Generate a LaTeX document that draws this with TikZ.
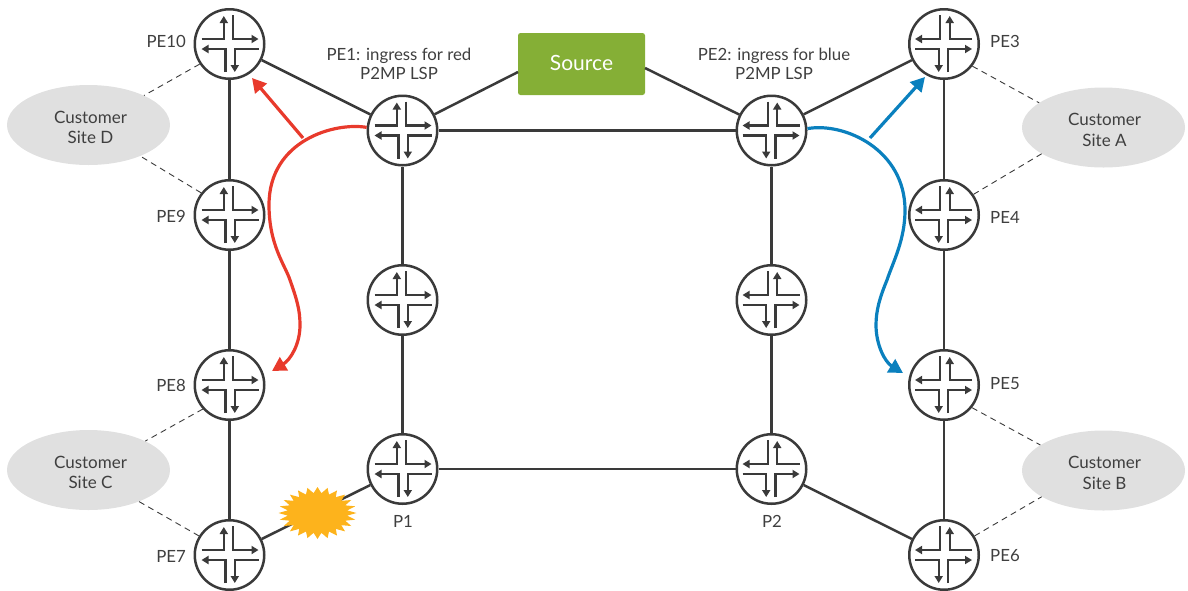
\documentclass[tikz,border=0pt]{standalone}
\usepackage{fontspec}
\setmainfont{Lato}
\usetikzlibrary{arrows.meta,shapes.geometric}
\definecolor{ink}{HTML}{3A3A3A}
\definecolor{txt}{HTML}{3F3F3F}
\definecolor{sitegray}{HTML}{E0E0E0}
\definecolor{srcgreen}{HTML}{85AF36}
\definecolor{burstc}{HTML}{FDB31C}
\definecolor{redl}{HTML}{E83A2C}
\definecolor{bluel}{HTML}{0A80BE}
\tikzset{
  router/.style={circle,draw=ink,fill=white,line width=2.5pt,minimum size=69.5pt,inner sep=0pt},
  link/.style={draw=ink,line width=2.5pt},
  dashlink/.style={draw=ink,line width=0.9pt,dash pattern=on 6pt off 4.5pt},
  site/.style={ellipse,fill=sitegray,minimum width=163pt,minimum height=80pt,inner sep=0pt,align=center,text=txt,font=\fontsize{17}{20.5}\selectfont},
  lab/.style={text=txt,inner sep=0pt,font=\fontsize{16.8}{19}\selectfont,align=center},
  icontip/.style={-{Triangle[length=7pt,width=8pt]}},
  iconLeft/.pic={
    \begin{scope}[line width=2.3pt,draw=ink,ink,miter limit=10]
      \draw[icontip] (-28,-5) -- (-5.7,-5) -- (-5.7,-28);
      \draw[icontip] (3.7,-29) -- (3.7,-5) -- (29,-5);
      \draw[icontip] (-4,28) -- (-4,5) -- (-28,5);
      \draw[icontip] (29,5) -- (5.3,5) -- (5.3,28);
    \end{scope}
  },
  iconRight/.pic={
    \begin{scope}[xscale=-1,line width=2.3pt,draw=ink,ink,miter limit=10]
      \draw[icontip] (-28,-5) -- (-5.7,-5) -- (-5.7,-28);
      \draw[icontip] (3.7,-29) -- (3.7,-5) -- (29,-5);
      \draw[icontip] (-4,28) -- (-4,5) -- (-28,5);
      \draw[icontip] (29,5) -- (5.3,5) -- (5.3,28);
    \end{scope}
  },
  redarrow/.style={draw=redl,line width=3.2pt,-{Triangle[length=14pt,width=15pt,fill=redl]}},
  bluearrow/.style={draw=bluel,line width=3.2pt,-{Triangle[length=14pt,width=15pt,fill=bluel]}},
}
\begin{document}
\begin{tikzpicture}[x=1pt,y=-1pt]
\useasboundingbox (0,0) rectangle (1188,590);
% routers
\node[router] (pe10) at (229.5,44) {};
\node[router] (pe9)  at (229.5,215) {};
\node[router] (pe8)  at (229.5,385) {};
\node[router] (pe7)  at (229.5,555) {};
\node[router] (pe1)  at (402.5,130.5) {};
\node[router] (ml)   at (402.5,300) {};
\node[router] (p1)   at (402.5,469) {};
\node[router] (pe2)  at (771.5,130.5) {};
\node[router] (mr)   at (771.5,300) {};
\node[router] (p2)   at (771.5,469) {};
\node[router] (pe3)  at (944,44) {};
\node[router] (pe4)  at (944,215) {};
\node[router] (pe5)  at (944,385) {};
\node[router] (pe6)  at (944,555) {};
\foreach \n in {pe10,pe9,pe8,pe7,pe1,ml,p1} \pic at (\n) {iconLeft};
\foreach \n in {pe2,mr,p2,pe3,pe4,pe5,pe6} \pic at (\n) {iconRight};
% source
\node[fill=srcgreen,rounded corners=2.5pt,minimum width=127pt,minimum height=62pt,inner sep=0pt,text=white,font=\fontsize{21}{24}\selectfont] (source) at (581.5,64) {\raisebox{2pt}{Source}};
\coordinate (srcL) at (518,72);
\coordinate (srcR) at (645,68);
% sites
\node[site] (siteD) at (88.5,125) {\rule{0pt}{17pt}\hspace*{4pt}Customer\\\hspace*{4pt}Site D};
\node[site] (siteC) at (88.5,470) {\rule{0pt}{17pt}\hspace*{4pt}Customer\\\hspace*{4pt}Site C};
\node[site] (siteA) at (1103.5,127.5) {\rule{0pt}{17pt}\hspace*{2pt}Customer\\\hspace*{2pt}Site A};
\node[site] (siteB) at (1103.5,470.5) {\rule{0pt}{17pt}\hspace*{2pt}Customer\\\hspace*{2pt}Site B};
% links
\draw[link] (pe10) -- (pe9);
\draw[link] (pe9) -- (pe8);
\draw[link] (pe8) -- (pe7);
\draw[link] (pe3) -- (pe4);
\draw[link] (pe4) -- (pe5);
\draw[link] (pe5) -- (pe6);
\draw[link] (pe1) -- (ml);
\draw[link] (ml) -- (p1);
\draw[link] (pe2) -- (mr);
\draw[link] (mr) -- (p2);
\draw[link] (pe1) -- (pe2);
\draw[link] (p1) -- (p2);
\draw[link] (pe10) -- (pe1);
\draw[link] (pe2) -- (pe3);
\draw[link] (p2) -- (pe6);
\draw[link] (pe7) -- (p1);
\draw[link] (pe1) -- (srcL);
\draw[link] (srcR) -- (pe2);
% dashed
\draw[dashlink] (pe3.-38) -- (siteA.159);
\draw[dashlink] (pe4.35) -- (siteA.203);
\draw[dashlink] (pe5.-39) -- (siteB.158);
\draw[dashlink] (pe6.32) -- (siteB.203);
\draw[dashlink] (pe10.214) -- (siteD.28);
\draw[dashlink] (pe9.142) -- (siteD.329);
\draw[dashlink] (pe8.222) -- (siteC.27);
\draw[dashlink] (pe7.148) -- (siteC.328);
% burst
\node[star,star points=24,star point ratio=1.3,fill=burstc,minimum size=52pt,inner sep=0pt,xscale=1.5,transform shape] (burst) at (317.5,513) {};
% red
\coordinate (redBranch) at (303,138);
\coordinate (redTip) at (252,78);
\coordinate (redEnd) at (272,371);
\draw[redarrow] (redBranch) -- (redTip);
\draw[redarrow] (pe1.175) .. controls (335,122) and (269,140) .. (269,205) .. controls (269,245) and (285,265) .. (290,280) .. controls (297,300) and (300,310) .. (300,325) .. controls (300,345) and (290,360) .. (redEnd);
% blue
\coordinate (blueBranch) at (870,138);
\coordinate (blueTip) at (925,77);
\coordinate (blueEnd) at (903,373);
\draw[bluearrow] (blueBranch) -- (blueTip);
\draw[bluearrow] (pe2.3) .. controls (845,122) and (905,150) .. (905,210) .. controls (905,240) and (893,262) .. (887,280) .. controls (880,297) and (876,310) .. (876,325) .. controls (876,345) and (885,362) .. (blueEnd);
% labels
\node[lab,anchor=east] (lpe10) at (186,41) {PE10};
\node[lab,anchor=east] (lpe9) at (186,216) {PE9};
\node[lab,anchor=east] (lpe8) at (186,385) {PE8};
\node[lab,anchor=east] (lpe7) at (186,556) {PE7};
\node[lab,anchor=west] (lpe3) at (990,41) {PE3};
\node[lab,anchor=west] (lpe4) at (990,217) {PE4};
\node[lab,anchor=west] (lpe5) at (990,384) {PE5};
\node[lab,anchor=west] (lpe6) at (990,556) {PE6};
\node[lab] (lp1) at (403,521) {P1};
\node[lab] (lp2) at (772,521) {P2};
\node[lab] (lpe1) at (399,64) {PE1: ingress for red\\P2MP LSP};
\node[lab] (lpe2) at (774,64) {PE2: ingress for blue\\P2MP LSP};
\end{tikzpicture}
\end{document}
